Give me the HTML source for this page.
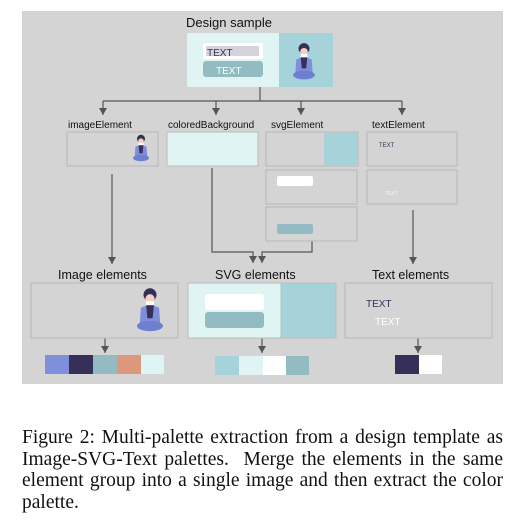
<!DOCTYPE html>
<html><head><meta charset="utf-8"><style>
html,body{margin:0;padding:0;background:#fff;width:510px;height:520px;overflow:hidden}
.cap{position:absolute;left:22px;top:427px;width:481px;font-family:"Liberation Serif",serif;font-size:19.5px;line-height:21.5px;color:#111}
.cap div{text-align:justify;text-align-last:justify;white-space:nowrap}
.cap div.l{text-align-last:left}
</style></head><body>
<svg width="510" height="420" style="position:absolute;left:0;top:0" font-family="Liberation Sans, sans-serif">
<defs>
<marker id="a" markerWidth="8" markerHeight="8" refX="7" refY="4" orient="auto" markerUnits="userSpaceOnUse"><path d="M0,0 L7,4 L0,8 z" fill="#555"/></marker>
<g id="p">
<circle cx="0" cy="-14" r="5" fill="#363058"/>
<circle cx="0" cy="-11" r="3.5" fill="#f3d0c0"/>
<rect x="-3" y="-9" width="6" height="3" fill="#fff"/>
<path d="M-7,-4 Q0,-8 7,-4 L8,10 L-8,10 z" fill="#7f8fdc"/>
<path d="M-3,-6 L3,-6 L2,4 L-2,4 z" fill="#363058"/>
<ellipse cx="0" cy="10" rx="10" ry="4" fill="#6f7fd0"/>
</g>
</defs>
<rect x="22" y="11" width="481" height="373" fill="#d4d4d4"/>
<text x="186" y="27" font-size="13" fill="#111">Design sample</text>
<rect x="187" y="33" width="92" height="54" fill="#e0f5f3"/>
<rect x="279" y="33" width="54" height="54" fill="#a6d3da"/>
<rect x="203" y="43" width="60" height="16" rx="2" fill="#fff"/>
<rect x="206" y="46" width="53" height="10" fill="#d6d3dc"/>
<text x="207" y="56" font-size="10" fill="#363058">TEXT</text>
<rect x="203" y="61" width="60" height="16" rx="3" fill="#93bcc2"/>
<text x="216" y="74" font-size="10" fill="#fff">TEXT</text>
<use href="#p" transform="translate(304,64) scale(1.1)"/>
<g stroke="#555" stroke-width="1.2" fill="none">
<path d="M260,87 V101"/>
<path d="M103,101 H402"/>
<path d="M103,101 V115" marker-end="url(#a)"/>
<path d="M216,101 V115" marker-end="url(#a)"/>
<path d="M301,101 V115" marker-end="url(#a)"/>
<path d="M402,101 V115" marker-end="url(#a)"/>
<path d="M112,174 V264" marker-end="url(#a)"/>
<path d="M212,168 V252 H253 V263" marker-end="url(#a)"/>
<path d="M312,241 V252 H262 V263" marker-end="url(#a)"/>
<path d="M413,210 V264" marker-end="url(#a)"/>
<path d="M105,338 V353" marker-end="url(#a)"/>
<path d="M262,338 V353" marker-end="url(#a)"/>
<path d="M418,338 V353" marker-end="url(#a)"/>
</g>
<g font-size="10" fill="#111">
<text x="68" y="128">imageElement</text>
<text x="168" y="128">coloredBackground</text>
<text x="271" y="128">svgElement</text>
<text x="372" y="128">textElement</text>
</g>
<g stroke="#bcbcbc" stroke-width="1.2" fill="none">
<rect x="67" y="132" width="91" height="34"/>
<rect x="266" y="132" width="92" height="34"/>
<rect x="367" y="132" width="90" height="34"/>
<rect x="266" y="170" width="91" height="34"/>
<rect x="367" y="170" width="90" height="34"/>
<rect x="266" y="207" width="91" height="34"/>
<rect x="31" y="283" width="147" height="55"/>
<rect x="345" y="283" width="147" height="55"/>
</g>
<rect x="167" y="132" width="91" height="34" fill="#e0f5f3" stroke="#bcbcbc"/>
<rect x="324" y="133" width="34" height="33" fill="#a6d3da"/>
<use href="#p" transform="translate(141,150) scale(0.8)"/>
<text x="379" y="147" font-size="6" fill="#363058">TEXT</text>
<text x="385" y="195" font-size="5" fill="#f4f4f4">TEXT</text>
<rect x="277" y="176" width="36" height="10" rx="2" fill="#fff"/>
<rect x="277" y="224" width="36" height="10" rx="2" fill="#93bcc2"/>
<g font-size="12.5" fill="#111">
<text x="58" y="279">Image elements</text>
<text x="215" y="279">SVG elements</text>
<text x="372" y="279">Text elements</text>
</g>
<use href="#p" transform="translate(150,313) scale(1.3)"/>
<rect x="188" y="283" width="93" height="55" fill="#e0f5f3" stroke="#bcbcbc"/>
<rect x="281" y="283" width="55" height="55" fill="#a6d3da" stroke="#bcbcbc"/>
<rect x="205" y="294" width="59" height="16" rx="3" fill="#fff"/>
<rect x="205" y="312" width="59" height="16" rx="3" fill="#93bcc2"/>
<text x="366" y="307" font-size="10" fill="#363058">TEXT</text>
<text x="375" y="325" font-size="10" fill="#fff">TEXT</text>
<rect x="45" y="355" width="24" height="19" fill="#7f8fdc"/>
<rect x="69" y="355" width="24" height="19" fill="#363058"/>
<rect x="93" y="355" width="24" height="19" fill="#93bcc2"/>
<rect x="117" y="355" width="24" height="19" fill="#dd977a"/>
<rect x="141" y="355" width="23" height="19" fill="#dff4f4"/>
<rect x="215" y="356" width="24" height="19" fill="#a6d3da"/>
<rect x="239" y="356" width="24" height="19" fill="#e0f5f3"/>
<rect x="263" y="356" width="23" height="19" fill="#fff"/>
<rect x="286" y="356" width="23" height="19" fill="#93bcc2"/>
<rect x="395" y="355" width="24" height="19" fill="#363058"/>
<rect x="419" y="355" width="23" height="19" fill="#fff"/>
</svg>
<div class="cap">
<div>Figure 2: Multi-palette extraction from a design template as</div>
<div>Image-SVG-Text palettes.&nbsp; Merge the elements in the same</div>
<div>element group into a single image and then extract the color</div>
<div class="l">palette.</div>
</div>
</body></html>
